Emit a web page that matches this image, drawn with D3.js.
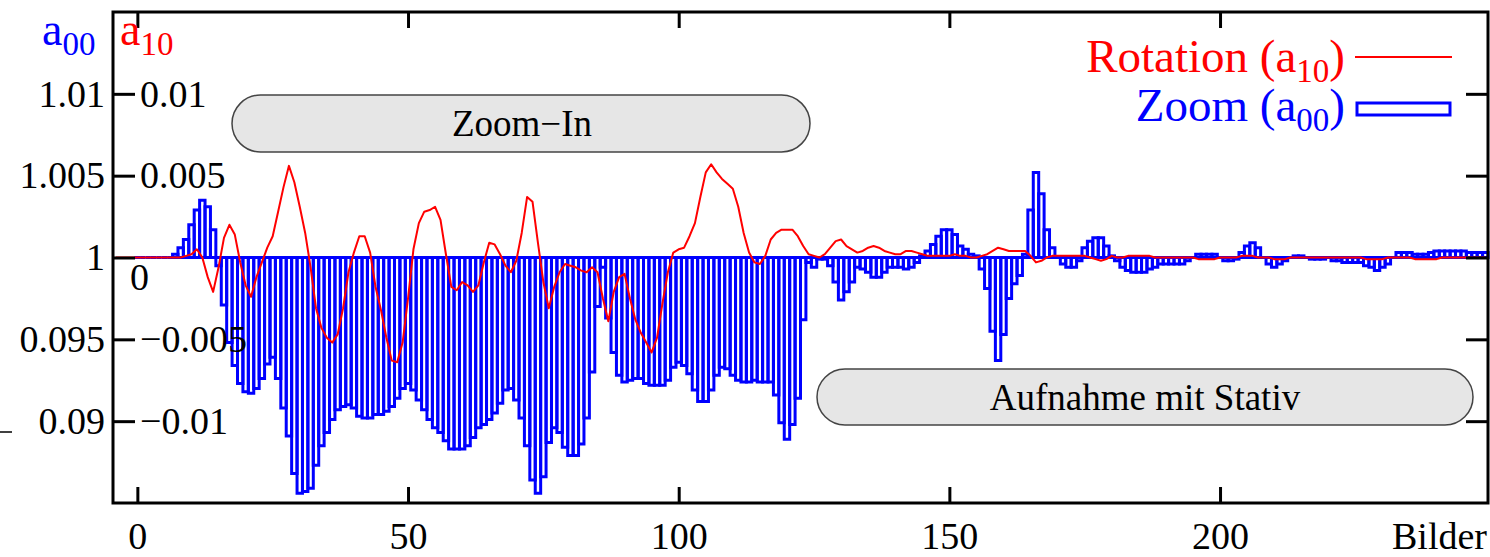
<!DOCTYPE html>
<html>
<head>
<meta charset="utf-8">
<script src="https://cdn.jsdelivr.net/npm/d3@7/dist/d3.min.js"></script>
<style>
  body { margin: 0; background: #fff; }
  svg text { font-family: "Liberation Serif", "Times New Roman", serif; }
</style>
</head>
<body>
<div class="chart"></div>
<script>
// Rotation a10, one value per frame, starting at frame -4 (units of 1e-4)
var rotStart = -4;
var rotation = [
  0,0,0,0,0,0,0,0,0,0,0,0,0,
  1,2,5,0,-12,-21,-6,12,20,14,
  -3,-17,-24,-12,-3,6,13,28,43,56,
  46,31,15,-6,-31,-43,-49,-52,-47,-31,
  -9,3,13,13,3,-18,-32,-49,-63,-64,
  -52,-25,5,21,28,29,31,23,2,-18,
  -20,-15,-17,-21,-17,-3,9,8,2,-5,
  -9,-2,15,37,34,9,-15,-31,-18,-9,
  -4,-5,-6,-8,-9,-6,-9,-25,-39,-21,
  -12,-10,-25,-38,-46,-52,-58,-49,-28,-9,
  3,5,6,13,21,37,52,57,52,48,
  45,42,31,15,3,-3,-4,1,11,15,
  17,17,17,13,7,2,1,0,2,6,
  10,11,7,5,3,4,6,7,6,4,
  3,2,2,4,4,3,2,1,1,1,
  1,1,2,1,1,0,0,1,2,4,
  6,5,4,4,4,4,1,-3,-2,0,
  1,1,1,1,1,1,1,0,-1,-2,
  -1,1,0,0,1,1,1,1,1,0,
  0,0,0,0,0,0,0,-1,-1,-1,
  -1,0,0,0,0,1,1,1,0,0,
  0,-1,-1,-1,0,0,0,0,0,0,
  0,0,0,0,0,0,0,0,-1,-1,
  -1,-1,0,0,0,0,0,-1,-1,-1,
  -1,-1,0,0,0,0,0,0,0,0,
  0
];

// Zoom a00 - 1, one bar per frame, starting at frame 0 (units of 1e-4)
var zoomStart = 0;
var zoom = [
  0,0,0,0,0,0,0,
  2,6,11,20,29,35,31,17,
  -5,-29,-52,-66,-77,-82,-83,-80,-74,-65,
  -61,-74,-92,-109,-132,-144,-143,-141,-127,-115,
  -107,-99,-93,-91,-90,-92,-97,-98,-98,-96,
  -96,-94,-91,-86,-80,-77,-81,-87,-93,-99,
  -104,-107,-112,-117,-117,-117,-115,-110,-104,-102,
  -99,-95,-89,-81,-80,-87,-98,-115,-136,-144,
  -134,-113,-104,-107,-116,-121,-121,-114,-98,-70,
  -30,-6,-37,-58,-72,-76,-75,-74,-74,-77,
  -78,-78,-78,-75,-67,-64,-66,-71,-81,-88,
  -88,-81,-72,-67,-68,-72,-75,-76,-76,-75,
  -76,-76,-76,-84,-101,-111,-102,-86,-38,-3,
  -6,-1,-1,-5,-15,-26,-21,-15,-6,-7,
  -9,-12,-12,-9,-6,-6,-6,-7,-6,-3,
  1,4,8,13,17,17,14,7,5,2,
  1,-7,-19,-45,-63,-47,-25,-16,-11,2,
  29,52,39,17,6,0,-4,-6,-6,-2,
  6,10,12,12,7,1,-2,-6,-8,-9,
  -9,-9,-7,-6,-4,-4,-4,-4,-4,-2,
  0,2,2,2,2,0,-2,-2,-1,3,
  7,9,6,0,-4,-6,-4,-2,0,1,
  1,0,-1,-1,-1,0,-2,-2,-3,-3,
  -3,-3,-5,-6,-8,-6,-4,0,3,3,
  3,2,2,2,3,4,4,4,4,4,
  4,3,3,3,3
];
var unit = 1e-4;

var ticksY = [0.01, 0.005, 0, -0.005, -0.01];
var labelsA00 = ["1.01", "1.005", "1", "0.095", "0.09"];
var labelsA10 = ["0.01", "0.005", "0", "\u22120.005", "\u22120.01"];
var ticksX = [0, 50, 100, 150, 200];
var xTitle = "Bilder";
var noteTop = "Zoom\u2212In";
var noteBottom = "Aufnahme mit Stativ";

var width = 1490, height = 557;
var plot = { left: 113, right: 1488, top: 12, bottom: 503 };

var svg = d3.select("div.chart").append("svg")
  .attr("width", width)
  .attr("height", height);

var x = d3.scaleLinear().domain([-4.5, 249.5]).range([plot.left, plot.right]);
var y = d3.scaleLinear().domain([-0.015, 0.015]).range([plot.bottom, plot.top]);

var blue = "#0000ff", red = "#ff0000";

// annotation boxes
function note(x0, y0, x1, y1, label, tx, ty) {
  svg.append("rect")
    .attr("x", x0).attr("y", y0)
    .attr("width", x1 - x0).attr("height", y1 - y0)
    .attr("rx", (y1 - y0) / 2).attr("ry", (y1 - y0) / 2)
    .attr("fill", "#e6e6e6")
    .attr("stroke", "#444")
    .attr("stroke-width", 1.5);
  svg.append("text")
    .attr("x", tx).attr("y", ty)
    .attr("text-anchor", "middle")
    .attr("font-size", 37)
    .text(label);
}
note(232, 95, 810, 152, noteTop, 522, 136);
note(817, 369, 1473, 425, noteBottom, 1145, 410);

// bars (outlined boxes, drawn as paths so zero bars still show)
var y0 = y(0);
svg.append("g")
  .attr("class", "bars")
  .selectAll("path")
  .data(zoom)
  .enter()
  .append("path")
  .attr("d", function(d, i) {
    var f = zoomStart + i;
    var xa = x(f - 0.5), xb = x(f + 0.5), yv = y(d * unit);
    return "M" + xa + "," + y0 + "V" + yv + "H" + xb + "V" + y0 + "Z";
  })
  .attr("fill", "none")
  .attr("stroke", blue)
  .attr("stroke-width", 3);

// rotation line
var line = d3.line()
  .x(function(d, i) { return x(rotStart + i); })
  .y(function(d) { return y(d * unit); });

svg.append("path")
  .datum(rotation)
  .attr("d", line)
  .attr("fill", "none")
  .attr("stroke", red)
  .attr("stroke-width", 2)
  .attr("stroke-linejoin", "round");

// axes
function styleAxis(g) {
  g.select(".domain").remove();
  g.selectAll("line").attr("stroke", "#000").attr("stroke-width", 3);
  g.attr("font-family", null).attr("font-size", 38);
  g.selectAll("text").attr("fill", "#000");
}

svg.append("g")
  .attr("transform", "translate(" + plot.left + ",0)")
  .call(d3.axisLeft(y).tickValues(ticksY).tickSizeInner(-22).tickSizeOuter(0).tickPadding(8)
    .tickFormat(function(d, i) { return labelsA00[i]; }))
  .call(styleAxis);

var a10Axis = svg.append("g")
  .attr("transform", "translate(" + plot.left + ",0)")
  .call(d3.axisRight(y).tickValues(ticksY).tickSize(0).tickPadding(27)
    .tickFormat(function(d, i) { return labelsA10[i]; }))
  .call(styleAxis);
a10Axis.selectAll(".tick")
  .filter(function(d) { return d === 0; })
  .select("text")
  .attr("x", 17)
  .attr("dy", "0.32em")
  .attr("y", 20);

svg.append("g")
  .attr("transform", "translate(" + plot.right + ",0)")
  .call(d3.axisRight(y).tickValues(ticksY).tickSizeInner(-22).tickSizeOuter(0).tickFormat(""))
  .call(styleAxis);

svg.append("g")
  .attr("transform", "translate(0," + plot.bottom + ")")
  .call(d3.axisBottom(x).tickValues(ticksX).tickSizeInner(-16).tickSizeOuter(0).tickPadding(19)
    .tickFormat(d3.format("d")))
  .call(styleAxis);

svg.append("g")
  .attr("transform", "translate(0," + plot.top + ")")
  .call(d3.axisTop(x).tickValues(ticksX).tickSizeInner(-16).tickSizeOuter(0).tickFormat(""))
  .call(styleAxis);

svg.append("text")
  .attr("x", plot.right - 1)
  .attr("y", 549)
  .attr("text-anchor", "end")
  .attr("font-size", 38)
  .text(xTitle);

// frame
svg.append("rect")
  .attr("x", plot.left).attr("y", plot.top)
  .attr("width", plot.right - plot.left)
  .attr("height", plot.bottom - plot.top)
  .attr("fill", "none")
  .attr("stroke", "#000")
  .attr("stroke-width", 3);

// stray mark at left edge
svg.append("line")
  .attr("x1", 0).attr("x2", 12)
  .attr("y1", 432).attr("y2", 432)
  .attr("stroke", "#000").attr("stroke-width", 1.5);

// axis titles a00 / a10
function subLabel(tx, ty, base, sub, color, size, subSize, shift, anchor) {
  var t = svg.append("text")
    .attr("x", tx).attr("y", ty)
    .attr("fill", color)
    .attr("font-size", size)
    .attr("text-anchor", anchor || "start");
  t.append("tspan").text(base);
  t.append("tspan").attr("dy", shift).attr("font-size", subSize).text(sub);
  return t;
}
subLabel(42, 45, "a", "00", blue, 46, 33, 10);
subLabel(120, 45, "a", "10", red, 46, 33, 10);

// legend
var leg1 = subLabel(1345, 72, "Rotation (a", "10", red, 47, 33, 10, "end");
leg1.append("tspan").attr("dy", -10).text(")");
var leg2 = subLabel(1345, 121, "Zoom (a", "00", blue, 47, 33, 10, "end");
leg2.append("tspan").attr("dy", -10).text(")");

svg.append("line")
  .attr("x1", 1355).attr("x2", 1452)
  .attr("y1", 57).attr("y2", 57)
  .attr("stroke", red).attr("stroke-width", 2);
svg.append("rect")
  .attr("x", 1357).attr("y", 103)
  .attr("width", 93).attr("height", 12)
  .attr("fill", "none")
  .attr("stroke", blue).attr("stroke-width", 3);
</script>
</body>
</html>
